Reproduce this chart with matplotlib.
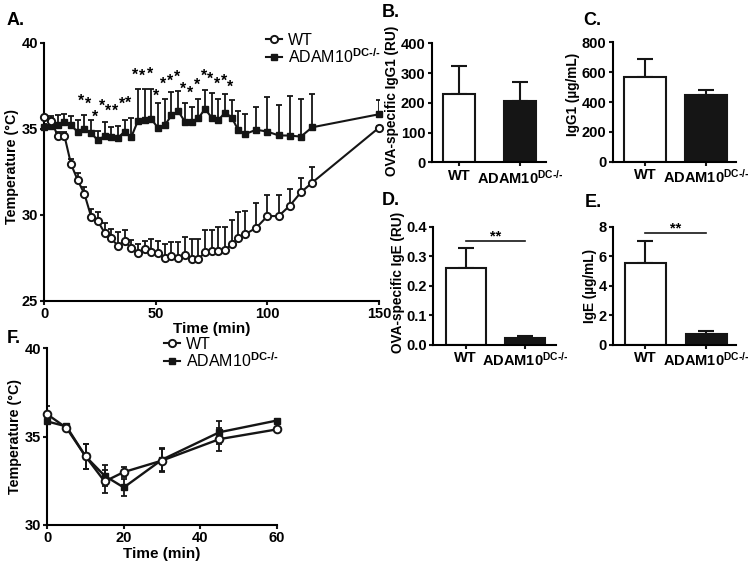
import matplotlib
matplotlib.use('Agg')
import matplotlib.pyplot as plt

# ---- data ----
# panel A: temperature time course
time_a = [0, 3, 6, 9, 12, 15, 18, 21, 24, 27, 30, 33, 36, 39, 42, 45, 48, 51, 54, 57, 60,
          63, 66, 69, 72, 75, 78, 81, 84, 87, 90, 95, 100, 105, 110, 115, 120, 150]
wt_a = [35.66, 35.47, 34.6, 34.6, 32.93, 32.0, 31.2, 29.88, 29.63, 28.95, 28.63, 28.18, 28.49,
        28.05, 27.79, 27.99, 27.85, 27.76, 27.47, 27.6, 27.5, 27.66, 27.42, 27.42, 27.81, 27.89,
        27.89, 27.95, 28.28, 28.63, 28.86, 29.24, 29.92, 29.92, 30.52, 31.3, 31.86, 35.06]
wt_a_err = [0.1, 0.15, 0.2, 0.2, 0.3, 0.45, 0.4, 0.45, 0.5, 0.55, 0.55, 0.8, 0.6, 0.5, 0.5, 0.5,
            0.75, 0.72, 0.8, 0.83, 0.93, 1.03, 1.14, 1.14, 1.3, 1.22, 1.38, 1.32, 1.42, 1.5, 1.38,
            1.43, 1.24, 1.22, 1.0, 0.85, 0.9, 0.1]
adam_a = [35.1, 35.16, 35.21, 35.38, 35.2, 34.81, 34.97, 34.75, 34.32, 34.58, 34.49, 34.48, 34.83,
          34.52, 35.47, 35.49, 35.55, 35.04, 35.21, 35.77, 36.02, 35.41, 35.41, 35.6, 36.15, 35.65,
          35.5, 35.94, 35.65, 34.9, 34.69, 34.94, 34.83, 34.61, 34.6, 34.54, 35.08, 35.84]
adam_a_err = [0.2, 0.6, 0.6, 0.45, 0.55, 0.7, 0.85, 0.75, 0.55, 0.8, 0.6, 0.65, 0.65, 1.1, 1.85,
              1.8, 1.75, 1.45, 1.5, 1.35, 1.15, 1.1, 0.85, 1.1, 1.1, 1.45, 1.2, 1.1, 1.0, 1.15,
              1.15, 1.3, 2.0, 1.75, 2.3, 2.2, 1.95, 0.8]
# asterisks above the curves (time, height)
sig_t = [16.5, 19.8, 22.8, 25.8, 28.7, 31.7, 34.8, 37.7, 40.7, 43.7, 47.2, 50.2, 53.4, 56.4,
         59.4, 62.4, 65.4, 68.4, 71.4, 74.4, 77.4, 80.4, 83.4]
sig_y = [36.86, 36.63, 35.93, 36.57, 36.28, 36.28, 36.67, 36.71, 38.35, 38.31, 38.41, 37.15,
         37.83, 38.02, 38.22, 37.54, 37.29, 37.77, 38.31, 38.12, 37.83, 38.02, 37.67]

# panels B-E: bar charts (WT, ADAM10 DC-/-)
igg1_ova = [230, 205]
igg1_ova_err = [95, 65]
igg1_tot = [565, 445]
igg1_tot_err = [125, 35]
ige_ova = [0.262, 0.025]
ige_ova_err = [0.066, 0.006]
ige_tot = [5.55, 0.72]
ige_tot_err = [1.5, 0.25]

# panel F: temperature time course
time_f = [0, 5, 10, 15, 20, 30, 45, 60]
wt_f = [36.25, 35.49, 33.88, 32.46, 32.99, 33.64, 34.85, 35.4]
wt_f_err = [0.5, 0.1, 0.7, 0.65, 0.3, 0.65, 0.65, 0.1]
adam_f = [35.85, 35.57, 33.88, 32.78, 32.12, 33.69, 35.24, 35.9]
adam_f_err = [0.15, 0.1, 0.7, 0.6, 0.5, 0.65, 0.65, 0.1]

# ---- style ----
plt.rcParams['font.family'] = ['Liberation Sans', 'DejaVu Sans']
plt.rcParams['font.weight'] = 'bold'
plt.rcParams['axes.labelweight'] = 'bold'
plt.rcParams['mathtext.fontset'] = 'custom'
plt.rcParams['mathtext.rm'] = 'Liberation Sans'
plt.rcParams['mathtext.bf'] = 'Liberation Sans:bold'
plt.rcParams['mathtext.it'] = 'Liberation Sans:italic'

K = '#151515'
LW = 1.5
W, H = 754, 573
HY = '\u2011'  # plain hyphen (mathtext would turn '-' into a minus sign)
adam_bold = r'ADAM10$^{\mathbf{DC' + HY + '/' + HY + '}}$'
adam_reg = r'ADAM10$^{\mathrm{DC' + HY + '/' + HY + '}}$'

fig = plt.figure(figsize=(W / 100, H / 100), dpi=100)


def box(l, t, r, b):
    return [l / W, 1 - b / H, (r - l) / W, (b - t) / H]


def style(ax):
    ax.spines['top'].set_visible(False)
    ax.spines['right'].set_visible(False)
    ax.spines['left'].set_linewidth(LW)
    ax.spines['bottom'].set_linewidth(LW)
    ax.tick_params(width=LW, length=3, labelsize=10.5, pad=1.5, color=K)


def bar_panel(rect, vals, errs, width, xlim, ymax, yticks, ylabel, sig=None, label_y=0.5):
    ax = fig.add_axes(box(*rect))
    ax.bar([0, 1], vals, width, color=['white', K], edgecolor=K, linewidth=LW, zorder=2)
    ax.errorbar([0, 1], vals, yerr=[[0, 0], errs], fmt='none', ecolor=K,
                elinewidth=LW, capsize=6, capthick=LW, zorder=1)
    if sig is not None:
        ax.plot([0, 1], [sig, sig], color=K, lw=1.2)
        ax.text(0.5, sig, '**', ha='center', va='baseline', fontsize=10.5)
    ax.set_xlim(*xlim)
    ax.set_ylim(0, ymax)
    ax.set_yticks(yticks)
    ax.set_xticks([0, 1])
    ax.set_xticklabels(['WT', adam_bold])
    ax.set_ylabel(ylabel, fontsize=9.8, labelpad=1)
    ax.yaxis.label.set_y(label_y)
    style(ax)
    return ax


# ---- panel A ----
axA = fig.add_axes(box(44.3, 42.7, 379, 300.7))
axA.errorbar(time_a, adam_a, yerr=[[0] * len(adam_a), adam_a_err], fmt='none', ecolor=K,
             elinewidth=1.3, capsize=2, capthick=1.3)
axA.errorbar(time_a, wt_a, yerr=[[0] * len(wt_a), wt_a_err], fmt='none', ecolor=K,
             elinewidth=1.3, capsize=2, capthick=1.3)
axA.plot(time_a, adam_a, '-s', color=K, lw=1.5, ms=4.5, clip_on=False, zorder=3)
axA.plot(time_a, wt_a, '-o', color=K, mfc='white', mew=1.4, lw=1.5, ms=5.2, clip_on=False, zorder=4)
for t, y in zip(sig_t, sig_y):
    axA.text(t, y - 0.5, '*', ha='center', va='baseline', fontsize=11.5)
axA.set_xlim(0, 150)
axA.set_ylim(25, 40)
axA.set_xticks([0, 50, 100, 150])
axA.set_yticks([25, 30, 35, 40])
axA.set_xlabel('Time (min)', fontsize=11, labelpad=1)
axA.set_ylabel('Temperature (°C)', fontsize=10.3, labelpad=2)
axA.yaxis.label.set_y(0.52)
style(axA)
hA = [plt.Line2D([], [], color=K, marker='o', mfc='white', mew=1.4, ms=5.2, lw=1.5),
      plt.Line2D([], [], color=K, marker='s', ms=4.5, lw=1.5)]
fig.legend(hA, ['WT', adam_reg], loc='upper left', bbox_to_anchor=(266 / W, 1 - 33 / H),
           frameon=False, prop={'weight': 'normal', 'size': 11.5}, handlelength=1.0,
           handletextpad=0.4, labelspacing=-0.05, borderpad=0, borderaxespad=0)

# ---- panels B-E ----
bar_panel((431.7, 43.3, 545.7, 162.3), igg1_ova, igg1_ova_err, 0.52, (-0.45, 1.42), 400,
          [0, 100, 200, 300, 400], 'OVA-specific IgG1 (RU)', label_y=0.52)
bar_panel((612.7, 42.3, 736, 161.7), igg1_tot, igg1_tot_err, 0.69, (-0.54, 1.5), 800,
          [0, 200, 400, 600, 800], 'IgG1 (µg/mL)', label_y=0.56)
bar_panel((433.3, 226.7, 555.7, 345), ige_ova, ige_ova_err, 0.67, (-0.54, 1.51), 0.4,
          [0.0, 0.1, 0.2, 0.3, 0.4], 'OVA-specific IgE (RU)', sig=0.353, label_y=0.53)
bar_panel((613.3, 226.7, 735.7, 345), ige_tot, ige_tot_err, 0.67, (-0.525, 1.48), 8,
          [0, 2, 4, 6, 8], 'IgE (µg/mL)', sig=7.59)

# ---- panel F ----
axF = fig.add_axes(box(47.3, 348, 276.7, 525))
axF.errorbar(time_f, adam_f, yerr=adam_f_err, fmt='none', ecolor=K, elinewidth=1.3,
             capsize=2, capthick=1.3)
axF.errorbar(time_f, wt_f, yerr=wt_f_err, fmt='none', ecolor=K, elinewidth=1.3,
             capsize=2, capthick=1.3)
axF.plot(time_f, adam_f, '-s', color=K, lw=1.7, ms=5, clip_on=False, zorder=3)
axF.plot(time_f, wt_f, '-o', color=K, mfc='white', mew=1.4, lw=1.7, ms=5.5, clip_on=False, zorder=4)
axF.set_xlim(0, 60)
axF.set_ylim(30, 40)
axF.set_xticks([0, 20, 40, 60])
axF.set_yticks([30, 35, 40])
axF.set_xlabel('Time (min)', fontsize=11, labelpad=1)
axF.set_ylabel('Temperature (°C)', fontsize=10.3, labelpad=2)
style(axF)
fig.legend(hA, ['WT', adam_reg], loc='upper left', bbox_to_anchor=(164 / W, 1 - 337 / H),
           frameon=False, prop={'weight': 'normal', 'size': 11.5}, handlelength=1.0,
           handletextpad=0.4, labelspacing=-0.05, borderpad=0, borderaxespad=0)

# ---- panel letters ----
for lab, x, y in [('A.', 7, 25), ('B.', 382, 17), ('C.', 583, 25), ('D.', 382, 205),
                  ('E.', 585, 207), ('F.', 7, 343)]:
    fig.text(x / W, 1 - y / H, lab, fontsize=13, fontweight='bold', va='baseline')

fig.savefig('out.png', dpi=100)
